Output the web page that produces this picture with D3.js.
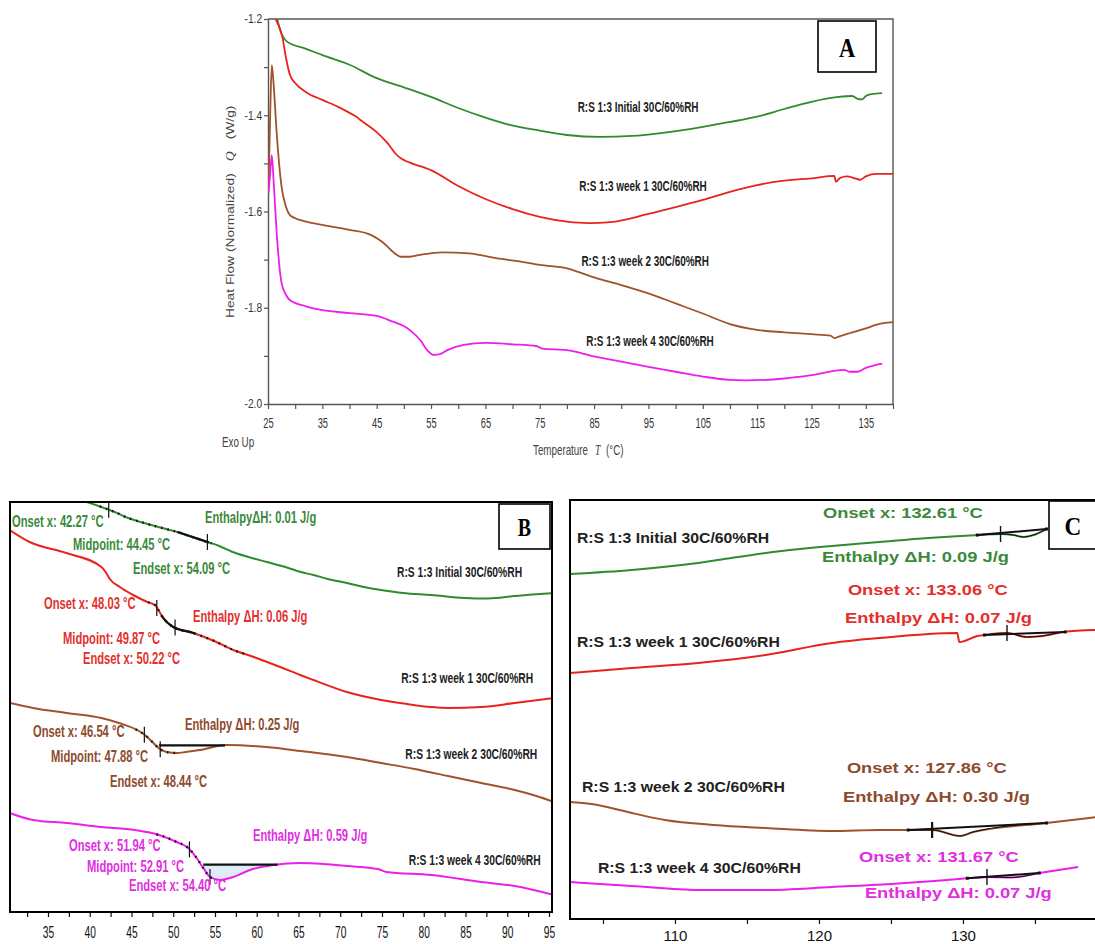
<!DOCTYPE html>
<html>
<head>
<meta charset="utf-8">
<script src="https://cdn.jsdelivr.net/npm/d3@7"></script>
<style>
  html, body { margin: 0; padding: 0; background: #fff; }
  svg { display: block; }
</style>
</head>
<body>
<svg id="fig" width="1095" height="944"></svg>
<script>
// ---------------------------------------------------------------------------
// Series
// ---------------------------------------------------------------------------
const seriesNames = [
  "R:S 1:3 Initial 30C/60%RH",
  "R:S 1:3 week 1 30C/60%RH",
  "R:S 1:3 week 2 30C/60%RH",
  "R:S 1:3 week 4 30C/60%RH"
];
const lineColors = ["#2f8b2f", "#e8231d", "#a0522d", "#ec1eec"];
const noteColors = ["#3a8a3a", "#e3302d", "#8e4a2c", "#e02ee0"];

// ---------------------------------------------------------------------------
// Panel A: full DSC scans, normalized heat flow Q (W/g) vs temperature T (°C)
// ---------------------------------------------------------------------------
const scanA_initial = [
  [26.7,-1.200],[27.3,-1.225],[28.5,-1.247],[32,-1.262],[35,-1.275],[40,-1.295],
  [45,-1.323],[50,-1.342],[55,-1.362],[60,-1.385],[65,-1.405],[69.5,-1.420],
  [75,-1.432],[80,-1.441],[86,-1.445],[92,-1.443],[98,-1.436],[105,-1.424],
  [110,-1.414],[115,-1.403],[120,-1.387],[125,-1.372],[130,-1.362],[132.5,-1.360],
  [133.5,-1.366],[134.3,-1.367],[135,-1.360],[136,-1.356],[138,-1.354]
];
const scanA_week1 = [
  [26.4,-1.200],[27.0,-1.215],[27.6,-1.235],[28.3,-1.280],[29,-1.315],[30,-1.333],
  [32,-1.352],[35,-1.368],[38,-1.383],[40,-1.395],[41.5,-1.405],[42,-1.410],
  [42.5,-1.414],[45,-1.435],[47,-1.458],[48.5,-1.480],[49.5,-1.490],[51,-1.498],
  [55,-1.514],[60,-1.547],[65,-1.574],[70,-1.595],[75,-1.611],[80,-1.621],
  [84,-1.624],[88,-1.622],[95,-1.605],[100,-1.591],[105,-1.576],[110,-1.559],
  [115,-1.545],[120,-1.536],[125,-1.531],[129.2,-1.526],[129.5,-1.538],[130.3,-1.530],
  [131.5,-1.527],[133,-1.531],[134,-1.534],[135,-1.527],[137,-1.522],[140,-1.522]
];
const scanA_week2 = [
  [25.1,-1.550],[25.4,-1.400],[25.7,-1.296],[26.0,-1.330],[26.6,-1.437],[27.5,-1.549],
  [28.3,-1.590],[29,-1.607],[30,-1.614],[32,-1.621],[35,-1.628],[40,-1.638],
  [44,-1.649],[46,-1.663],[47,-1.673],[48,-1.684],[49.5,-1.694],[51,-1.694],
  [53,-1.690],[57,-1.685],[62,-1.687],[67,-1.697],[72,-1.705],[75,-1.711],
  [80,-1.718],[85,-1.737],[90,-1.753],[95,-1.770],[100,-1.791],[105,-1.812],
  [110,-1.834],[115,-1.846],[120,-1.851],[125,-1.855],[128.5,-1.858],[129.2,-1.863],
  [130,-1.860],[132,-1.853],[135,-1.843],[137,-1.835],[140,-1.830]
];
const scanA_week4 = [
  [25.1,-1.562],[25.4,-1.520],[25.7,-1.483],[26.0,-1.530],[26.6,-1.645],[27.5,-1.749],
  [28.3,-1.773],[29,-1.784],[32,-1.797],[35,-1.805],[40,-1.811],[45,-1.817],
  [48,-1.829],[50,-1.838],[51.5,-1.850],[53,-1.867],[54.3,-1.888],[55.5,-1.898],
  [56.5,-1.897],[58,-1.888],[61,-1.877],[65,-1.873],[70,-1.876],[74.5,-1.880],
  [75.5,-1.885],[80,-1.888],[85,-1.901],[90,-1.912],[95,-1.923],[100,-1.933],
  [105,-1.943],[110,-1.950],[113,-1.951],[120,-1.947],[125,-1.940],[131,-1.929],
  [132,-1.933],[133.5,-1.933],[135,-1.925],[138,-1.916]
];
const ticksA_x = [25, 30, 35, 40, 45, 50, 55, 60, 65, 70, 75, 80, 85, 90, 95, 100,
                  105, 110, 115, 120, 125, 130, 135, 140];
const ticksA_y = [-2.0, -1.9, -1.8, -1.7, -1.6, -1.5, -1.4, -1.3, -1.2];
const curveLabelAtA = [[93.1,-1.383],[94.0,-1.547],[94.4,-1.703],[95.3,-1.869]];

// ---------------------------------------------------------------------------
// Panel B: 30–95 °C detail (glass transition region), traces offset vertically
// ---------------------------------------------------------------------------
const detailB_initial = [
  [38.5,0.006],[41.4,-0.010],[43,-0.020],[44.6,-0.032],[46.5,-0.042],[48.2,-0.050],
  [50.5,-0.060],[52.3,-0.070],[54.1,-0.080],[55.5,-0.088],[57.1,-0.100],[59,-0.110],
  [61.2,-0.120],[63,-0.128],[65.3,-0.140],[66.8,-0.146],[68.5,-0.154],[70.8,-0.162],
  [72.8,-0.170],[74.9,-0.176],[77.5,-0.182],[80.9,-0.186],[84.9,-0.192],[87.7,-0.193],
  [90.9,-0.188],[93,-0.185],[95.6,-0.182]
];
const detailB_week1 = [
  [30.4,-0.056],[32.8,-0.080],[37.2,-0.102],[41.4,-0.130],[41.9,-0.140],[42.4,-0.154],
  [43.6,-0.170],[45.2,-0.186],[46.9,-0.200],[47.8,-0.206],[48.8,-0.232],[50.0,-0.250],
  [52.4,-0.262],[54.9,-0.278],[57.2,-0.296],[59.3,-0.308],[62.8,-0.330],[65.2,-0.346],
  [66.8,-0.356],[70.8,-0.380],[74.9,-0.396],[78,-0.404],[80.9,-0.410],[82.9,-0.412],
  [86.9,-0.410],[90.9,-0.402],[95.6,-0.392]
];
const detailB_week2 = [
  [30.4,-0.402],[33.2,-0.412],[37.2,-0.422],[41.4,-0.432],[43.5,-0.442],[45.9,-0.458],
  [46.6,-0.466],[47.5,-0.480],[48.4,-0.494],[49.2,-0.500],[50.4,-0.502],[51.5,-0.500],
  [53.2,-0.496],[56.4,-0.486],[61.2,-0.490],[65.3,-0.498],[70.8,-0.510],[74.9,-0.522],
  [78.9,-0.534],[82.9,-0.548],[86.9,-0.562],[90.9,-0.576],[93.5,-0.588],[95.6,-0.600]
];
const detailB_week4 = [
  [30.4,-0.622],[33.2,-0.636],[37.2,-0.642],[41.4,-0.650],[45.4,-0.656],[48.3,-0.666],
  [50.4,-0.680],[51.8,-0.692],[52.8,-0.712],[53.6,-0.732],[54.4,-0.750],[55.6,-0.756],
  [57.2,-0.750],[59.2,-0.736],[62.0,-0.726],[65.2,-0.722],[68,-0.724],[70.8,-0.728],
  [74.5,-0.734],[75.5,-0.740],[80.9,-0.746],[86.9,-0.760],[90.9,-0.768],[95.6,-0.786]
];
const ticksB_x = [32.5, 35, 37.5, 40, 42.5, 45, 47.5, 50, 52.5, 55, 57.5, 60, 62.5, 65,
                  67.5, 70, 72.5, 75, 77.5, 80, 82.5, 85, 87.5, 90, 92.5, 95];
// Glass transition results: onset, midpoint, endset (°C) and enthalpy (J/g)
const onsetB    = [42.27, 48.03, 46.54, 51.94];
const midpointB = [44.45, 49.87, 47.88, 52.91];
const endsetB   = [54.09, 50.22, 48.44, 54.40];
const enthalpyB = [0.01, 0.06, 0.25, 0.59];
const enthalpyPrefixB = ["EnthalpyΔH: ", "Enthalpy ΔH: ", "Enthalpy ΔH: ", "Enthalpy ΔH: "];
// Analysis overlays: dotted / solid evaluation spans and step baselines (°C)
const dottedSpanB = [[41.2, 54.6], [47.0, 58.5], [45.5, 50.8], [48.0, 54.8]];
const solidSpanB  = [[50.5, 54.3], [48.6, 52.6], null, null];
const stepBaselineB = [null, null, [48.3, 56.2], [53.6, 62.5]];
// Text anchors (T, offset heat flow): onset, midpoint, endset, enthalpy
const noteAtB = [
  [[30.69,-0.039],[38.0,-0.084],[45.18,-0.133],[53.8,-0.031]],
  [[34.52,-0.202],[36.8,-0.272],[39.19,-0.312],[52.37,-0.228]],
  [[33.2,-0.458],[35.36,-0.508],[42.43,-0.558],[51.41,-0.444]],
  [[37.52,-0.686],[39.67,-0.728],[44.7,-0.766],[59.55,-0.666]]
];
const curveLabelAtB = [[76.8,-0.140],[77.3,-0.352],[77.8,-0.504],[78.2,-0.716]];

// ---------------------------------------------------------------------------
// Panel C: 103–139 °C detail (melting region), traces offset vertically
// ---------------------------------------------------------------------------
const detailC_initial = [
  [102.7,-0.148],[107,-0.140],[111.6,-0.126],[113.9,-0.116],[117.4,-0.102],[120.9,-0.092],
  [124.2,-0.084],[127.6,-0.076],[131.1,-0.070],[132.6,-0.068],[133.5,-0.070],[134.2,-0.074],
  [134.9,-0.070],[135.8,-0.058]
];
const detailC_week1 = [
  [102.7,-0.346],[107,-0.336],[111.6,-0.326],[116.3,-0.310],[120.9,-0.286],[124.2,-0.276],
  [129.6,-0.266],[129.75,-0.284],[131.0,-0.272],[132,-0.268],[133.1,-0.266],[134.4,-0.274],
  [135.5,-0.272],[137,-0.264],[139.3,-0.260]
];
const detailC_week2 = [
  [102.7,-0.604],[104.2,-0.608],[107,-0.626],[109.3,-0.640],[112.7,-0.650],[116.3,-0.656],
  [120.9,-0.662],[124.2,-0.660],[127.9,-0.660],[129.8,-0.672],[130.7,-0.664],[135.8,-0.646],
  [139.3,-0.634]
];
const detailC_week4 = [
  [102.7,-0.764],[107,-0.772],[111.6,-0.780],[116.3,-0.780],[120.9,-0.774],[125,-0.768],
  [128,-0.762],[130.5,-0.756],[131.7,-0.754],[133.4,-0.755],[135.3,-0.746],[138,-0.734]
];
const ticksC_x = [105, 110, 115, 120, 125, 130, 135];
const onsetC    = [132.61, 133.06, 127.86, 131.67];
const enthalpyC = [0.09, 0.07, 0.30, 0.07];
const baselineSpanC = [[131.0, 135.8], [131.5, 137.1], [126.2, 135.8], [130.3, 135.3]];
const noteAtC = [
  [[120.28,-0.026],[120.21,-0.114]],
  [[122.01,-0.180],[121.81,-0.236]],
  [[121.94,-0.536],[121.67,-0.594]],
  [[122.78,-0.714],[123.19,-0.786]]
];
const curveLabelAtC = [[103.19,-0.076],[103.19,-0.284],[103.54,-0.574],[104.65,-0.736]];

// ---------------------------------------------------------------------------
// Helpers
// ---------------------------------------------------------------------------
const SANS = "'Liberation Sans', Arial, Helvetica, sans-serif";
const SERIF = "'Liberation Serif', 'Times New Roman', serif";
const svg = d3.select("#fig");
const defs = svg.append("defs");

function addText(g, x, y, s, o = {}) {
  const t = g.append("text")
    .attr("transform", `translate(${x},${y})` + (o.rotate ? ` rotate(${o.rotate})` : "") +
                       ` scale(${o.sx ?? 1},1)`)
    .attr("font-family", o.family || SANS)
    .attr("font-size", o.size || 12)
    .attr("font-weight", o.weight || "normal")
    .attr("fill", o.fill || "#000")
    .attr("text-anchor", o.anchor || "start")
    .attr("dominant-baseline", "central");
  if (typeof s === "function") s(t); else t.text(s);
  return t;
}

function valueAt(data, T) {
  const i = d3.bisector(d => d[0]).left(data, T);
  if (i <= 0) return data[0][1];
  if (i >= data.length) return data[data.length - 1][1];
  const a = data[i - 1], b = data[i];
  return a[1] + (b[1] - a[1]) * (T - a[0]) / (b[0] - a[0]);
}
function span(data, t0, t1) {
  const inner = data.filter(d => d[0] > t0 && d[0] < t1);
  return [[t0, valueAt(data, t0)], ...inner, [t1, valueAt(data, t1)]];
}
function addClip(id, x, y) {
  defs.append("clipPath").attr("id", id).append("rect")
    .attr("x", x.range()[0]).attr("y", Math.min(...y.range()))
    .attr("width", x.range()[1] - x.range()[0])
    .attr("height", Math.abs(y.range()[0] - y.range()[1]));
}
function letterBox(g, x, y, w, h, letter, size, sx) {
  g.append("rect").attr("x", x).attr("y", y).attr("width", w).attr("height", h)
    .attr("fill", "#fff").attr("stroke", "#000").attr("stroke-width", 1.6);
  addText(g, x + w / 2, y + h / 2 + 1, letter,
    { family: SERIF, size, weight: "bold", anchor: "middle", sx });
}

// ---------------------------------------------------------------------------
// Panel A
// ---------------------------------------------------------------------------
const xA = d3.scaleLinear().domain([25, 140]).range([268, 893]);
const yA = d3.scaleLinear().domain([-2.0, -1.2]).range([404, 19]);
addClip("clipA", xA, yA);
const gA = svg.append("g");
const lineA = d3.line().x(d => xA(d[0])).y(d => yA(d[1])).curve(d3.curveMonotoneX);

const axAx = gA.append("g").attr("transform", `translate(0,${yA(-2.0)})`)
  .call(d3.axisBottom(xA).tickValues(ticksA_x).tickSizeInner(5).tickSizeOuter(0).tickPadding(8)
    .tickFormat(d => (d - 25) % 10 === 0 ? d : ""));
const axAy = gA.append("g").attr("transform", `translate(${xA(25)},0)`)
  .call(d3.axisLeft(yA).tickValues(ticksA_y).tickSizeInner(4).tickSizeOuter(0).tickPadding(3)
    .tickFormat(v => Math.round(v * 10) % 2 === 0 ? v.toFixed(1) : ""));
[axAx, axAy].forEach(ax => {
  ax.select(".domain").attr("stroke", "#555").attr("stroke-width", 1.4);
  ax.selectAll(".tick line").attr("stroke", "#555").attr("stroke-width", 1.2);
});
axAx.selectAll(".tick text").attr("font-family", SANS).attr("font-size", 15)
  .attr("fill", "#333").attr("transform", "scale(0.62,1)");
axAy.selectAll(".tick text").attr("font-family", SANS).attr("font-size", 12)
  .attr("fill", "#333").attr("transform", "scale(0.85,1)");
gA.append("path")
  .attr("d", `M${xA(25)},${yA(-1.2)}H${xA(140)}V${yA(-2.0)}`)
  .attr("fill", "none").attr("stroke", "#555").attr("stroke-width", 1.4);

[scanA_initial, scanA_week1, scanA_week2, scanA_week4].forEach((d, i) => {
  gA.append("path").attr("clip-path", "url(#clipA)").attr("d", lineA(d))
    .attr("fill", "none").attr("stroke", lineColors[i]).attr("stroke-width", 1.8)
    .attr("stroke-linejoin", "round");
});
curveLabelAtA.forEach((p, i) => {
  addText(gA, xA(p[0]), yA(p[1]), seriesNames[i],
    { size: 14, weight: "bold", anchor: "middle", sx: 0.71, fill: "#222" });
});

addText(gA, 230, 318, t => {
  t.append("tspan").text("Heat Flow (Normalized)");
  t.append("tspan").attr("dx", 10).attr("font-style", "italic").attr("font-family", SERIF).text("Q");
  t.append("tspan").attr("dx", 10).text("(W/g)");
}, { size: 11.5, rotate: -90, sx: 1.2, fill: "#444" });
addText(gA, 533, 450, t => {
  t.append("tspan").text("Temperature");
  t.append("tspan").attr("dx", 10).attr("font-style", "italic").attr("font-family", SERIF).text("T");
  t.append("tspan").attr("dx", 8).text("(°C)");
}, { size: 14, sx: 0.7, fill: "#444" });
addText(gA, 222, 442, "Exo Up", { size: 14, sx: 0.7, fill: "#444" });
letterBox(gA, 818, 21, 58, 51, "A", 28, 0.8);

// ---------------------------------------------------------------------------
// Panel B
// ---------------------------------------------------------------------------
const xB = d3.scaleLinear().domain([30.45, 95.36]).range([10, 552]);
const yB = d3.scaleLinear().domain([0, -0.82]).range([502, 912]);
addClip("clipB", xB, yB);
const gB = svg.append("g");
const lineB = d3.line().x(d => xB(d[0])).y(d => yB(d[1])).curve(d3.curveMonotoneX);
const detailB = [detailB_initial, detailB_week1, detailB_week2, detailB_week4];

// shaded area of the week 4 step
{
  const i = 3, [t0, t1] = stepBaselineB[i];
  const base = valueAt(detailB[i], t1);
  const area = d3.area().x(d => xB(d[0])).y0(yB(base)).y1(d => yB(Math.min(d[1], base)))
    .curve(d3.curveMonotoneX);
  gB.append("path").attr("d", area(span(detailB[i], t0, t1))).attr("fill", "#dcecf8");
}

detailB.forEach((d, i) => {
  gB.append("path").attr("clip-path", "url(#clipB)").attr("d", lineB(d))
    .attr("fill", "none").attr("stroke", lineColors[i]).attr("stroke-width", 2)
    .attr("stroke-linejoin", "round");
});
detailB.forEach((d, i) => {
  const [a, b] = dottedSpanB[i];
  gB.append("path").attr("clip-path", "url(#clipB)").attr("d", lineB(span(d, a, b)))
    .attr("fill", "none").attr("stroke", "#111").attr("stroke-width", 2.4)
    .attr("stroke-dasharray", "1.5,5");
  if (solidSpanB[i]) {
    const [s0, s1] = solidSpanB[i];
    gB.append("path").attr("d", lineB(span(d, s0, s1)))
      .attr("fill", "none").attr("stroke", "#111").attr("stroke-width", 2.2);
  }
  if (stepBaselineB[i]) {
    const [t0, t1] = stepBaselineB[i];
    const base = valueAt(d, t1);
    gB.append("line").attr("x1", xB(t0)).attr("x2", xB(t1))
      .attr("y1", yB(base)).attr("y2", yB(base))
      .attr("stroke", "#111").attr("stroke-width", 2.2);
  }
  [onsetB[i], endsetB[i]].forEach(T => {
    const yc = yB(valueAt(d, T));
    gB.append("line").attr("x1", xB(T)).attr("x2", xB(T))
      .attr("y1", Math.max(yc - 8, yB(0))).attr("y2", yc + 8)
      .attr("stroke", "#111").attr("stroke-width", 1.2);
  });
});

const axB = gB.append("g").attr("transform", `translate(0,${yB(-0.82)})`)
  .call(d3.axisBottom(xB).tickValues(ticksB_x).tickSizeInner(5).tickSizeOuter(0).tickPadding(9)
    .tickFormat(d => d % 5 === 0 ? d : ""));
axB.select(".domain").remove();
axB.selectAll(".tick line").attr("stroke", "#111").attr("stroke-width", 1.2);
axB.selectAll(".tick text").attr("font-family", SANS).attr("font-size", 17)
  .attr("fill", "#111").attr("transform", "scale(0.6,1)");
gB.append("rect").attr("x", xB.range()[0]).attr("y", yB(0))
  .attr("width", xB.range()[1] - xB.range()[0]).attr("height", yB(-0.82) - yB(0))
  .attr("fill", "none").attr("stroke", "#000").attr("stroke-width", 2);

noteAtB.forEach((anchors, i) => {
  const texts = [
    `Onset x: ${onsetB[i].toFixed(2)} °C`,
    `Midpoint: ${midpointB[i].toFixed(2)} °C`,
    `Endset x: ${endsetB[i].toFixed(2)} °C`,
    `${enthalpyPrefixB[i]}${enthalpyB[i].toFixed(2)} J/g`
  ];
  anchors.forEach((p, k) => {
    addText(gB, xB(p[0]), yB(p[1]), texts[k],
      { size: 16, weight: "bold", sx: 0.70, fill: noteColors[i] });
  });
});
curveLabelAtB.forEach((p, i) => {
  addText(gB, xB(p[0]), yB(p[1]), seriesNames[i],
    { size: 14, weight: "bold", sx: 0.735, fill: "#222" });
});
letterBox(gB, 499, 504, 51, 45, "B", 25, 0.8);

// ---------------------------------------------------------------------------
// Panel C
// ---------------------------------------------------------------------------
const xC = d3.scaleLinear().domain([102.71, 139.31]).range([570, 1097]);
const yC = d3.scaleLinear().domain([0, -0.838]).range([500, 919]);
addClip("clipC", xC, yC);
const gC = svg.append("g");
const lineC = d3.line().x(d => xC(d[0])).y(d => yC(d[1])).curve(d3.curveMonotoneX);
const detailC = [detailC_initial, detailC_week1, detailC_week2, detailC_week4];

detailC.forEach((d, i) => {
  gC.append("path").attr("clip-path", "url(#clipC)").attr("d", lineC(d))
    .attr("fill", "none").attr("stroke", lineColors[i]).attr("stroke-width", 2)
    .attr("stroke-linejoin", "round");
});
detailC.forEach((d, i) => {
  const [a, b] = baselineSpanC[i];
  gC.append("path").attr("d", lineC(span(d, a, b)))
    .attr("fill", "none").attr("stroke", "#111").attr("stroke-width", 1);
  gC.append("line")
    .attr("x1", xC(a)).attr("y1", yC(valueAt(d, a)))
    .attr("x2", xC(b)).attr("y2", yC(valueAt(d, b)))
    .attr("stroke", "#111").attr("stroke-width", 2);
  [a, b].forEach(T => {
    gC.append("rect").attr("x", xC(T) - 1.5).attr("y", yC(valueAt(d, T)) - 1.5)
      .attr("width", 3).attr("height", 3).attr("fill", "#111");
  });
  const yc = yC(valueAt(d, onsetC[i]));
  gC.append("line").attr("x1", xC(onsetC[i])).attr("x2", xC(onsetC[i]))
    .attr("y1", yc - 8).attr("y2", yc + 8)
    .attr("stroke", "#111").attr("stroke-width", i === 2 ? 2.2 : 1.4);
});

const axC = gC.append("g").attr("transform", `translate(0,${yC(-0.838)})`)
  .call(d3.axisBottom(xC).tickValues(ticksC_x).tickSizeInner(5).tickSizeOuter(0).tickPadding(6)
    .tickFormat(d => d % 10 === 0 ? d : ""));
axC.select(".domain").remove();
axC.selectAll(".tick line").attr("stroke", "#111").attr("stroke-width", 1.2);
axC.selectAll(".tick text").attr("font-family", SANS).attr("font-size", 15).attr("fill", "#111");
gC.append("rect").attr("x", xC.range()[0]).attr("y", yC(0))
  .attr("width", xC.range()[1] - xC.range()[0]).attr("height", yC(-0.838) - yC(0))
  .attr("fill", "none").attr("stroke", "#000").attr("stroke-width", 2);

noteAtC.forEach((anchors, i) => {
  addText(gC, xC(anchors[0][0]), yC(anchors[0][1]), `Onset x: ${onsetC[i].toFixed(2)} °C`,
    { size: 15, weight: "bold", sx: 1.22, fill: noteColors[i] });
  addText(gC, xC(anchors[1][0]), yC(anchors[1][1]), `Enthalpy ΔH: ${enthalpyC[i].toFixed(2)} J/g`,
    { size: 15, weight: "bold", sx: 1.22, fill: noteColors[i] });
});
curveLabelAtC.forEach((p, i) => {
  addText(gC, xC(p[0]), yC(p[1]), seriesNames[i],
    { size: 14, weight: "bold", sx: 1.13, fill: "#222" });
});
letterBox(gC, 1049, 501, 48, 48, "C", 25, 0.93);
</script>
</body>
</html>
